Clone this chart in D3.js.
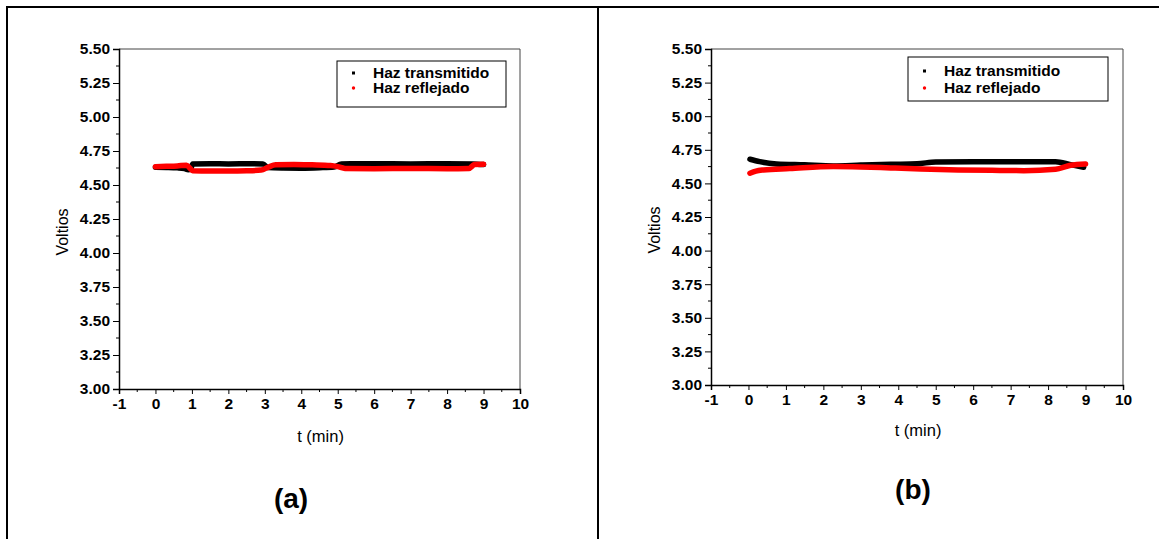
<!DOCTYPE html>
<html>
<head>
<meta charset="utf-8">
<script src="https://cdn.jsdelivr.net/npm/d3@7"></script>
<style>
  body { margin: 0; background: #fff; }
  svg text { font-family: "Liberation Sans", Arial, sans-serif; }
</style>
</head>
<body>
<div id="chart"></div>
<script>
// tick values shared by both panels
var xTicks = [-1, 0, 1, 2, 3, 4, 5, 6, 7, 8, 9, 10];
var yTicks = [3.00, 3.25, 3.50, 3.75, 4.00, 4.25, 4.50, 4.75, 5.00, 5.25, 5.50];
var legendLabels = ["Haz transmitido", "Haz reflejado"];
var panelLabels = ["(a)", "(b)"];

// panel (a) readings [t (min), Voltios]
var transmitidoA = [[0.0, 4.630], [0.3, 4.629], [0.6, 4.626], [0.8, 4.620], [0.9, 4.612], [0.97, 4.618],
  [1.02, 4.655], [1.5, 4.656], [2.0, 4.655], [2.5, 4.656], [2.95, 4.655], [3.08, 4.628], [3.5, 4.625],
  [4.0, 4.624], [4.5, 4.627], [4.9, 4.632], [5.1, 4.655], [6.0, 4.656], [7.0, 4.655], [8.0, 4.656],
  [8.7, 4.655], [9.0, 4.650]];
var reflejadoA = [[0.0, 4.635], [0.3, 4.637], [0.6, 4.640], [0.85, 4.646], [0.95, 4.622], [1.02, 4.605],
  [1.5, 4.603], [2.0, 4.603], [2.5, 4.605], [2.9, 4.610], [3.1, 4.632], [3.3, 4.648], [3.8, 4.651],
  [4.3, 4.648], [4.8, 4.643], [5.0, 4.635], [5.2, 4.622], [6.0, 4.620], [7.0, 4.621], [8.0, 4.620],
  [8.6, 4.622], [8.75, 4.650], [9.0, 4.652]];

// panel (b) readings [t (min), Voltios]
var transmitidoB = [[0.04, 4.680], [0.3, 4.662], [0.75, 4.645], [1.5, 4.638], [2.27, 4.630], [3.0, 4.636],
  [3.8, 4.642], [4.5, 4.646], [5.0, 4.660], [6.0, 4.662], [7.0, 4.662], [8.2, 4.662], [8.6, 4.640],
  [8.95, 4.620]];
var reflejadoB = [[0.04, 4.576], [0.2, 4.592], [0.4, 4.600], [1.1, 4.610], [2.27, 4.625], [3.0, 4.622],
  [3.8, 4.615], [4.6, 4.608], [5.6, 4.600], [6.5, 4.597], [7.35, 4.595], [8.2, 4.605], [8.6, 4.635],
  [9.0, 4.645]];

var svg = d3.select("#chart").append("svg")
  .attr("width", 1159)
  .attr("height", 539);

// outer frame lines
svg.append("line").attr("x1", 7).attr("x2", 1159).attr("y1", 7).attr("y2", 7)
  .attr("stroke", "#000").attr("stroke-width", 2);
svg.append("line").attr("x1", 7).attr("x2", 7).attr("y1", 6).attr("y2", 539)
  .attr("stroke", "#000").attr("stroke-width", 2);
svg.append("line").attr("x1", 598).attr("x2", 598).attr("y1", 6).attr("y2", 539)
  .attr("stroke", "#000").attr("stroke-width", 2);

var panels = [
  {left: 119, right: 520, top: 49, bottom: 389, series: [transmitidoA, reflejadoA],
   legend: {x: 337, y: 61, w: 169, h: 46, row0: 12, gap: 15}, ylabX: 62, ylabY: 232, xlabY: 442, tag: {x: 291, y: 508}},
  {left: 711, right: 1123, top: 49, bottom: 385, series: [transmitidoB, reflejadoB],
   legend: {x: 908, y: 57, w: 200, h: 44, row0: 14, gap: 17}, ylabX: 654, ylabY: 230, xlabY: 436, tag: {x: 913, y: 499}}
];

var colors = ["#000000", "#ff0000"];
var fmtX = function(d) { return String(d); };   // plain hyphen for -1

panels.forEach(function(p, i) {
  var x = d3.scaleLinear().domain([-1, 10]).range([p.left, p.right]);
  var y = d3.scaleLinear().domain([3, 5.5]).range([p.bottom, p.top]);

  // top and right frame
  svg.append("path")
    .attr("d", "M" + p.left + "," + p.top + "H" + p.right + "V" + p.bottom)
    .attr("fill", "none").attr("stroke", "#444").attr("stroke-width", 1);

  // minor ticks
  var yMinor = d3.range(3.125, 5.5, 0.25);
  var xMinor = d3.range(-0.5, 10, 1);
  svg.append("g").selectAll("line").data(yMinor).enter().append("line")
    .attr("x1", p.left - 3).attr("x2", p.left)
    .attr("y1", function(d) { return y(d); }).attr("y2", function(d) { return y(d); })
    .attr("stroke", "#000");
  svg.append("g").selectAll("line").data(xMinor).enter().append("line")
    .attr("y1", p.bottom).attr("y2", p.bottom + 3)
    .attr("x1", function(d) { return x(d); }).attr("x2", function(d) { return x(d); })
    .attr("stroke", "#000");

  // y axis
  var gy = svg.append("g")
    .attr("transform", "translate(" + p.left + ",0)")
    .call(d3.axisLeft(y).tickValues(yTicks).tickFormat(d3.format(".2f")).tickSize(6).tickPadding(3));
  gy.select(".domain").attr("stroke-width", 1.5);
  gy.selectAll("text").attr("font-size", "15.5px").attr("font-weight", "bold")
    .style("font-family", "'Liberation Sans', Arial, sans-serif").attr("fill", "#000");

  // x axis
  var gx = svg.append("g")
    .attr("transform", "translate(0," + p.bottom + ")")
    .call(d3.axisBottom(x).tickValues(xTicks).tickFormat(fmtX).tickSize(5).tickPadding(4));
  gx.select(".domain").attr("stroke-width", 1.5);
  gx.selectAll("text").attr("font-size", "15.5px").attr("font-weight", "bold")
    .style("font-family", "'Liberation Sans', Arial, sans-serif").attr("fill", "#000");

  // axis titles
  svg.append("text")
    .attr("transform", "translate(" + p.ylabX + "," + p.ylabY + ") rotate(-90)")
    .attr("text-anchor", "middle").attr("dy", "0.35em")
    .attr("font-size", "16px")
    .text("Voltios");
  svg.append("text")
    .attr("x", (p.left + p.right) / 2 + 1).attr("y", p.xlabY)
    .attr("text-anchor", "middle")
    .attr("font-size", "16.5px")
    .text("t (min)");

  // data bands
  var line = d3.line()
    .x(function(d) { return x(d[0]); })
    .y(function(d) { return y(d[1]); })
    .curve(d3.curveMonotoneX);
  p.series.forEach(function(s, k) {
    svg.append("path")
      .datum(s)
      .attr("d", line)
      .attr("fill", "none")
      .attr("stroke", colors[k])
      .attr("stroke-width", 5.5)
      .attr("stroke-linecap", "round")
      .attr("stroke-linejoin", "round");
  });

  // legend
  var lg = svg.append("g").attr("transform", "translate(" + p.legend.x + "," + p.legend.y + ")");
  lg.append("rect").attr("width", p.legend.w).attr("height", p.legend.h)
    .attr("fill", "#fff").attr("stroke", "#000").attr("stroke-width", 1);
  legendLabels.forEach(function(lbl, k) {
    var cy = p.legend.row0 + k * p.legend.gap;
    if (k == 0) {
      lg.append("rect").attr("x", 15).attr("y", cy - 1.5).attr("width", 3).attr("height", 3).attr("fill", colors[k]);
    } else {
      lg.append("circle").attr("cx", 16.5).attr("cy", cy).attr("r", 1.7).attr("fill", colors[k]);
    }
    lg.append("text")
      .attr("x", 36).attr("y", cy).attr("dy", "0.35em")
      .attr("font-size", "15.5px").attr("font-weight", "bold")
      .text(lbl);
  });

  // panel tag
  svg.append("text")
    .attr("x", p.tag.x).attr("y", p.tag.y)
    .attr("text-anchor", "middle")
    .attr("font-size", "28px").attr("font-weight", "bold")
    .text(panelLabels[i]);
});
</script>
</body>
</html>
